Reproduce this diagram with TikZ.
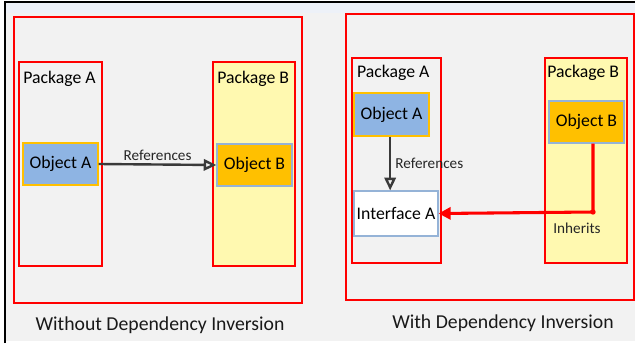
\documentclass[tikz,border=0pt]{standalone}
\usepackage{fontspec}
\setmainfont{Carlito}
\usetikzlibrary{fit,arrows.meta}

\definecolor{frame}{HTML}{FF0000}
\definecolor{pale}{HTML}{FFF9B0}
\definecolor{blueobj}{HTML}{8EB4E3}
\definecolor{goldobj}{HTML}{FFC000}
\definecolor{lineblue}{HTML}{95B3D7}
\definecolor{panel}{HTML}{F2F2F2}
\definecolor{topstrip}{HTML}{EDF1F8}
\definecolor{arrowgrey}{HTML}{3A3A3A}

\begin{document}
\begin{tikzpicture}[x=0.75pt, y=-0.75pt,
    box/.style={draw=frame, line width=0.9pt, inner sep=0pt},
    pkgb/.style={box, fill=pale},
    obja/.style={draw=goldobj, fill=blueobj, line width=0.9pt, inner sep=0pt},
    objb/.style={draw=lineblue, fill=goldobj, line width=0.9pt, inner sep=0pt},
    iface/.style={draw=lineblue, fill=white, line width=0.9pt, inner sep=0pt},
    lbl/.style={font=\fontsize{13.3}{15}\selectfont, inner sep=1pt},
    small/.style={font=\fontsize{11.4}{13}\selectfont, text=black!85, inner sep=1pt},
    caption/.style={font=\fontsize{14.8}{17}\selectfont, text=black!90},
    refs/.style={draw=arrowgrey, line width=1.8pt, -{Triangle[open, length=9.5pt, width=8.5pt]}},
    inh/.style={draw=frame, line width=2.3pt, -{Triangle[length=9pt, width=9pt]}}]

  \useasboundingbox (0,0) rectangle (635,343);
  \fill[white] (0,0) rectangle (635,343);
  \fill[panel] (5,2) rectangle (635,341);
  \fill[topstrip] (5,2) rectangle (635,13);
  \draw[black, line width=1pt] (5,343) -- (5,2) -- (635,2);

  % without dependency inversion
  \node[box, fit={(14,17) (302,303)}] (left) {};
  \node[box, fit={(19,62) (102,266)}] (pa1) {};
  \node[pkgb, fit={(213,62) (295,266)}] (pb1) {};
  \node[lbl, anchor=north west] at ([xshift=2.5pt,yshift=-6pt]pa1.north west) {Package A};
  \node[lbl, anchor=north west] at ([xshift=2.5pt,yshift=-6pt]pb1.north west) {Package B};
  \node[obja, fit={(23,143) (98,185)}] (oa1) {};
  \node[lbl] at (oa1) {Object A};
  \node[objb, fit={(217,144) (292,186)}] (ob1) {};
  \node[lbl] at (ob1) {Object B};

  \draw[refs] (oa1.east) -- node[small, above=1pt] {References} (ob1.west);

  \node[caption] (cap1) at (160,325) {Without Dependency Inversion};

  % with dependency inversion
  \node[box, fit={(346,14) (634,300)}] (right) {};
  \node[box, fit={(352,58) (441,263)}] (pa2) {};
  \node[pkgb, fit={(545,58) (627,263)}] (pb2) {};
  \node[lbl, anchor=north west] at ([xshift=3pt,yshift=-5pt]pa2.north west) {Package A};
  \node[lbl, anchor=north west] at ([xshift=1pt,yshift=-5pt]pb2.north west) {Package B};
  \node[obja, fit={(354,93) (429,136)}] (oa2) {};
  \node[lbl] at (oa2) {Object A};
  \node[objb, fit={(549,101) (624,143)}] (ob2) {};
  \node[lbl] at (ob2) {Object B};
  \node[iface, fit={(354,191) (438,236)}] (ia) {};
  \node[lbl] at (ia) {Interface A};

  \coordinate (turn) at (593,212);
  \draw[refs] ([xshift=-1pt]oa2.south) -- node[small, right=2pt] {References} ([xshift=-1pt]ia.north -| oa2.south);
  \draw[inh] (ob2.south -| turn) -- (turn) -- (ia.east);
  \fill[frame] (turn) circle (2pt);
  \node[small, anchor=north] at ([xshift=-12pt,yshift=-7pt]turn) {Inherits};

  \node[caption] (cap2) at (503,323) {With Dependency Inversion};

\end{tikzpicture}
\end{document}
